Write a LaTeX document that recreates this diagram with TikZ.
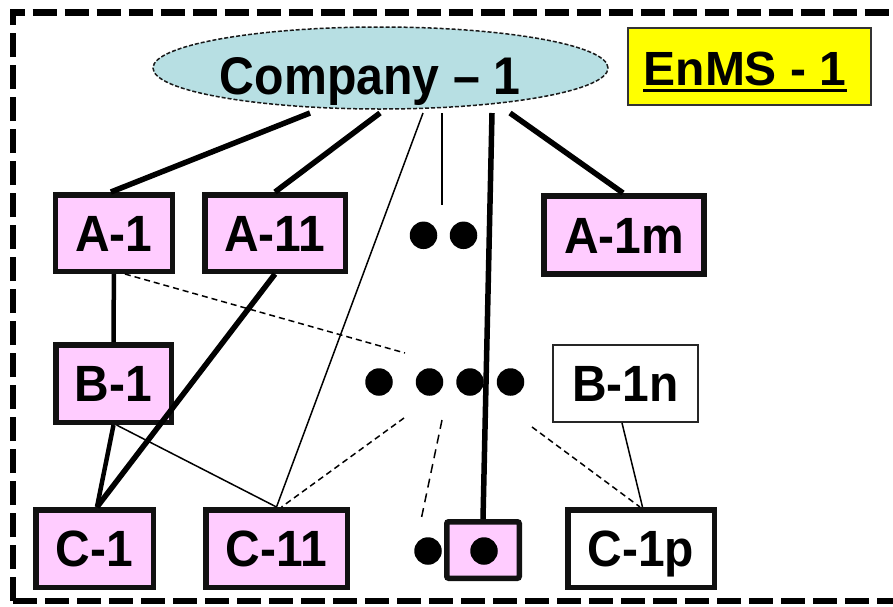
\documentclass[tikz,border=0pt]{standalone}
\usepackage{fontspec}
\setmainfont{Liberation Sans}
\newfontfamily\labfont[FakeStretch=0.94]{Liberation Sans}
\newfontfamily\compfont[FakeStretch=0.91]{Liberation Sans}
\usetikzlibrary{shapes.geometric}
\definecolor{pinkfill}{HTML}{FFCCFF}
\definecolor{bluefill}{HTML}{B7DFE3}
\definecolor{yellowfill}{HTML}{FFFF00}
\definecolor{edgeblack}{HTML}{111111}
\tikzset{
  box/.style={draw=edgeblack, line width=5.5, fill=pinkfill, rectangle, inner sep=0,
    text height=36.5, text depth=0, font=\labfont\bfseries\fontsize{51}{55}\selectfont},
  whitebox/.style={box, fill=white},
  thinbox/.style={box, fill=white, line width=2, draw=black!85},
  bigdot/.style={circle, fill=black, inner sep=0, minimum size=27.5},
  thickline/.style={line width=5.5, draw=black},
  midline/.style={line width=4.5, draw=black},
  thinline/.style={line width=1.5, draw=black},
  dashline/.style={line width=1.5, draw=black, dash pattern=on 6 off 4},
  longdashline/.style={line width=1.5, draw=black, dash pattern=on 9 off 6},
}
\begin{document}
\begin{tikzpicture}[x=1pt,y=-1pt]
\useasboundingbox (0,0) rectangle (893,606);
% outer dashed frame
\draw[line width=6.5, dash pattern=on 24 off 8] (13,601) -- (13,12.5) -- (910,12.5) (13,601) -- (910,601);

% company ellipse
\node[ellipse, draw=black!90, fill=bluefill, line width=1.5, dash pattern=on 4 off 2,
  minimum width=455, minimum height=82, inner sep=0] (company) at (380.5,68) {};
\node[anchor=base, inner sep=0, font=\compfont\bfseries\fontsize{53}{58}\selectfont] (companytext) at (370,94) {Company – 1};

% EnMS box
\node[rectangle, draw=black!80, line width=2, fill=yellowfill, minimum width=243, minimum height=77, inner sep=0] (enms) at (749.5,66.5) {};
\node[anchor=base, inner sep=0, font=\bfseries\fontsize{48}{52}\selectfont] (enmstext) at (745,85) {EnMS - 1};
\draw[line width=3.5] ([yshift=-5.5]enmstext.base west) -- ([yshift=-5.5]enmstext.base east);

% A row
\node[box, minimum width=116.8, minimum height=76.5] (a1) at (113.9,233) {A-1};
\node[box, minimum width=140.5, minimum height=76.5] (a11) at (275,233) {A-11};
\node[box, line width=6, minimum width=160, minimum height=78] (a1m) at (624,235) {A-1m};
\node[bigdot] (da1) at (423.5,235.3) {};
\node[bigdot] (da2) at (463.5,235.3) {};

% B row
\node[box, minimum width=115.5, minimum height=77.5] (b1) at (113.5,383.5) {B-1};
\node[thinbox, minimum width=145, minimum height=77] (b1n) at (625.5,383.5) {B-1n};
\node[bigdot] (db1) at (379,382) {};
\node[bigdot] (db2) at (429.5,382) {};
\node[bigdot] (db3) at (470,382) {};
\node[bigdot] (db4) at (510.5,382) {};

% C row
\node[box, minimum width=117.5, minimum height=77.5] (c1) at (94.5,548.5) {C-1};
\node[box, minimum width=141.5, minimum height=77.5] (c11) at (276.5,548.5) {C-11};
\node[box, rounded corners=2, minimum width=72.5, minimum height=56.5] (dotbox) at (483,550) {};
\node[bigdot] (dinner) at (484,551) {};
\node[bigdot] (dc1) at (428,551) {};
\node[whitebox, minimum width=146.5, minimum height=77.5] (c1p) at (641,548.5) {C-1p};

% free ends
\coordinate (e1) at (310,113);
\coordinate (e2) at (380,113);
\coordinate (e3) at (423,113);
\coordinate (e4) at (442,113);
\coordinate (e5) at (492,113);
\coordinate (e6) at (510,113);
\coordinate (v4) at (442,205);
\coordinate (m1) at (405,353);
\coordinate (m2) at (404,418);
\coordinate (m3) at (442,420);
\coordinate (m3b) at (421,520);
\coordinate (m4) at (532,427);

% connectors from company
\draw[thickline] (e1) -- ([xshift=-3]a1.north);
\draw[thickline] (e2) -- (a11.north);
\draw[thinline] (e3) -- (c11.north);
\draw[thinline] (e4) -- (v4);
\draw[thickline] (e5) -- (dotbox.north);
\draw[thickline] (e6) -- ([xshift=-1]a1m.north);

% lower connectors
\draw[midline] (a1.south) -- (b1.north);
\draw[dashline] ([xshift=11]a1.south) -- (m1);
\draw[thickline] (a11.south) -- ([xshift=2.5]c1.north);
\draw[midline] (b1.south) -- ([xshift=2.5]c1.north);
\draw[thinline] ([xshift=3]b1.south) -- (c11.north);
\draw[dashline] (m2) -- ([xshift=5]c11.north);
\draw[longdashline] (m3) -- (m3b);
\draw[dashline] (m4) -- ([xshift=-1]c1p.north);
\draw[thinline] ([xshift=-3.5]b1n.south) -- ([xshift=1.5]c1p.north);
\end{tikzpicture}
\end{document}
